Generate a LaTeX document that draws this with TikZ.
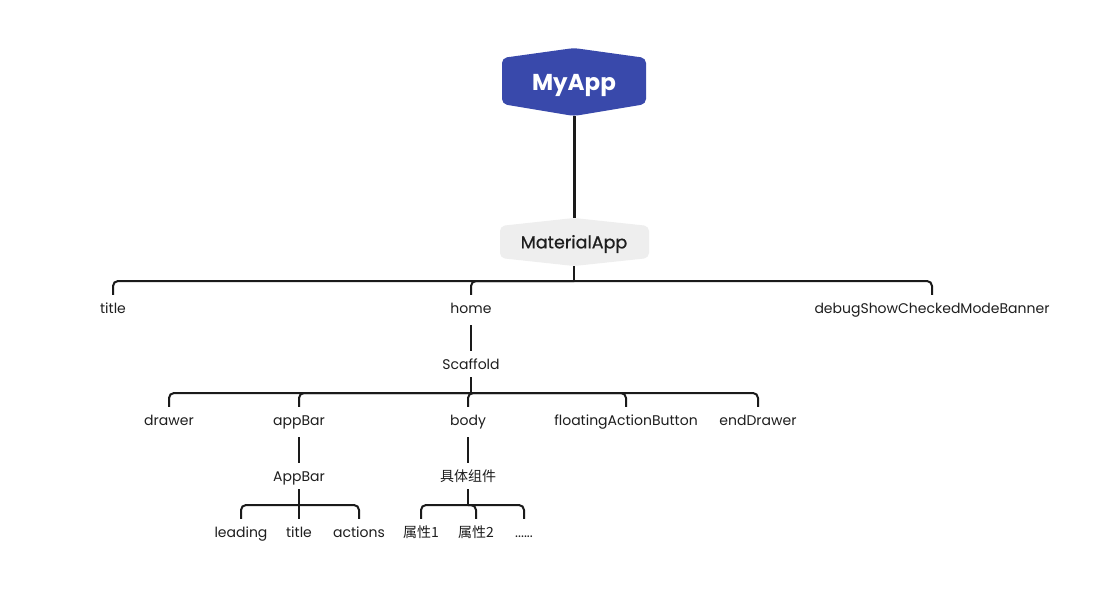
\documentclass[tikz,border=0pt]{standalone}
\usepackage{fontspec}
\setmainfont{Poppins}
\newfontfamily\cjk{Noto Sans CJK SC}
\newfontfamily\medfont[FakeBold=0.7]{Poppins}
\begin{document}
\begin{tikzpicture}[x=1pt,y=-1pt,
  conn/.style={draw=linec,line width=2pt,rounded corners=5pt},
  thick conn/.style={draw=linec,line width=3pt},
  lbl/.style={inner xsep=0pt,inner ysep=6.5pt,text height=10pt,text depth=3pt,font=\fontsize{14}{16}\selectfont,text=txtc},
  cjklbl/.style={lbl,font=\cjk\fontsize{14}{16}\selectfont},
]
\definecolor{linec}{HTML}{1A1A1A}
\definecolor{txtc}{HTML}{1E1E1E}
\definecolor{topc}{HTML}{3949AB}
\definecolor{grayc}{HTML}{EEEEEE}
\useasboundingbox (0,0) rectangle (1107,608);
\fill[white] (0,0) rectangle (1107,608);

% MyApp hexagon
\fill[topc,rounded corners=5pt] (502,58) -- (574,48) -- (646,58) -- (646,104) -- (574,116) -- (502,104) -- cycle;
\node[text=white,font=\fontsize{23}{26}\bfseries] (myapp) at (574,85) {MyApp};
\coordinate (myappB) at (574,116);
% MaterialApp hexagon
\fill[grayc,rounded corners=5pt] (500,226) -- (574,218) -- (649,226) -- (649,258) -- (574,266) -- (500,258) -- cycle;
\node[text=txtc,font=\medfont\fontsize{17.5}{20}\selectfont] (mat) at (574,244) {MaterialApp};
\coordinate (matT) at (574,218);
\coordinate (matB) at (574,266);

\draw[thick conn] (myappB) -- (matT);

% level 1
\node[lbl] (title1) at (113,310) {title};
\node[lbl] (home) at (471,310) {home};
\node[lbl] (debug) at (932,310) {debugShowCheckedModeBanner};
\draw[conn] (matB) -- ++(0,15) coordinate (matBar);
\draw[conn] (matBar) -| ([yshift=2pt]title1.north);
\draw[conn] (matBar) -| ([yshift=2pt]home.north);
\draw[conn] (matBar) -| ([yshift=2pt]debug.north);

% Scaffold
\node[lbl] (scaf) at (471,366) {Scaffold};
\draw[conn] ([yshift=-2pt]home.south) -- ([yshift=2pt]scaf.north);
\node[lbl] (drawer) at (169,422) {drawer};
\node[lbl] (appbar) at (299,422) {appBar};
\node[lbl] (body) at (468,422) {body};
\node[lbl] (fab) at (626,422) {floatingActionButton};
\node[lbl] (enddrawer) at (758,422) {endDrawer};
\draw[conn] ([yshift=2pt]scaf.south) -- (471,393) coordinate (scafBar);
\foreach \c in {drawer,appbar,body,fab,enddrawer}
  \draw[conn] (scafBar) -| ([yshift=2pt]\c.north);

% AppBar
\node[lbl] (AppBar) at (299,478) {AppBar};
\draw[conn] ([yshift=-2pt]appbar.south) -- ([yshift=2pt]AppBar.north);
\node[lbl] (leading) at (241,534) {leading};
\node[lbl] (title2) at (299,534) {title};
\node[lbl] (actions) at (359,534) {actions};
\draw[conn] ([yshift=2pt]AppBar.south) -- (299,505) coordinate (abBar);
\foreach \c in {leading,title2,actions}
  \draw[conn] (abBar) -| ([yshift=2pt]\c.north);

% 具体组件
\node[cjklbl] (comp) at (468,478) {具体组件};
\draw[conn] ([yshift=-2pt]body.south) -- ([yshift=2pt]comp.north);
\node[cjklbl] (p1) at (421,534) {属性1};
\node[cjklbl] (p2) at (476,534) {属性2};
\node[lbl] (p3) at (524,534) {......};
\draw[conn] ([yshift=2pt]comp.south) -- (468,505) coordinate (compBar);
\foreach \c in {p1,p2,p3}
  \draw[conn] (compBar) -| ([yshift=2pt]\c.north);
\end{tikzpicture}
\end{document}
